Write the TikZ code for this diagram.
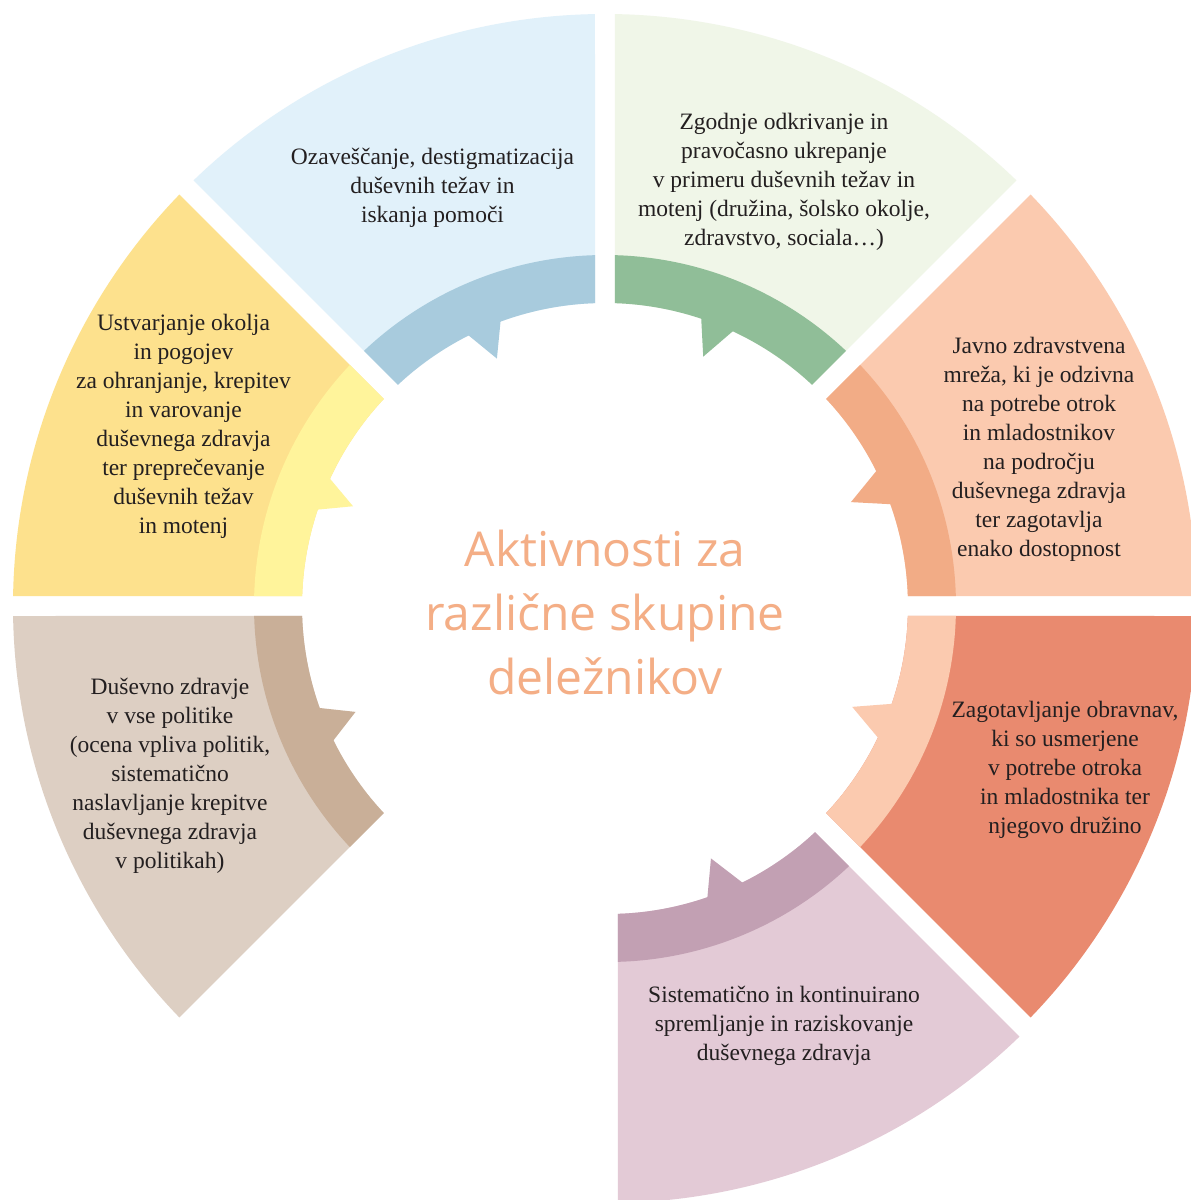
\documentclass[tikz,border=0pt]{standalone}
\usepackage{fontspec}
\setmainfont{Liberation Serif}
\newfontfamily\centerfont{Open Sans}
\definecolor{blueL}{HTML}{E1F1FA}
\definecolor{blueB}{HTML}{A8CBDD}
\definecolor{greenL}{HTML}{F0F6E8}
\definecolor{greenB}{HTML}{90BE98}
\definecolor{peachL}{HTML}{FBCAAF}
\definecolor{peachB}{HTML}{F2AC86}
\definecolor{redL}{HTML}{E98A6F}
\definecolor{redB}{HTML}{FBCAAF}
\definecolor{pinkL}{HTML}{E3CAD6}
\definecolor{pinkB}{HTML}{C2A0B3}
\definecolor{beigeL}{HTML}{DDCFC3}
\definecolor{beigeB}{HTML}{C9AF98}
\definecolor{yellowL}{HTML}{FDE18D}
\definecolor{yellowB}{HTML}{FFF49B}
\definecolor{ctext}{HTML}{F4AE86}
\definecolor{txt}{HTML}{231F20}
% sector: start angle, end angle, light colour, band colour
\newcommand{\ringsector}[4]{%
  \fill[#3] (#1+0.968:592) arc[start angle=#1+0.968, end angle=#2-0.968, radius=592]
    -- (#2-1.891:303) arc[start angle=#2-1.891, end angle=#1+1.891, radius=303] -- cycle;
  \fill[#4] (#1+1.633:351) arc[start angle=#1+1.633, end angle=#2-1.633, radius=351]
    -- (#2-1.891:303) arc[start angle=#2-1.891, end angle=#1+1.891, radius=303] -- cycle;
}
% tooth: colour, step angle, tip angle, tip radius, end angle
\newcommand{\ringtooth}[5]{%
  \fill[#1] (#2:306) -- (#3:#4) -- (#5:306) -- cycle;
}
\tikzset{
  segtext/.style={align=center, text=txt, inner sep=0pt, font=\fontsize{23.5}{29}\selectfont},
  centertext/.style={align=center, text=ctext, inner sep=0pt, font=\centerfont\fontsize{48}{64}\selectfont}
}
\begin{document}
\begin{tikzpicture}[x=1pt,y=1pt]
\clip (-605,-594) rectangle (586,606);
\fill[white] (-605,-594) rectangle (586,606);
\ringsector{0}{45}{peachL}{peachB}
\ringtooth{peachB}{19.4}{22.9}{267}{26.7}
\ringsector{45}{90}{greenL}{greenB}
\ringtooth{greenB}{71.7}{68.5}{268}{64.8}
\ringsector{90}{135}{blueL}{blueB}
\ringtooth{blueB}{109.9}{113.6}{270}{117}
\ringsector{135}{180}{yellowL}{yellowB}
\ringtooth{yellowB}{161.7}{158.4}{271}{154.9}
\ringsector{180}{225}{beigeL}{beigeB}
\ringtooth{beigeB}{199.4}{203}{271}{206.6}
\begin{scope}[shift={(3,-5)}]
\ringsector{270}{315}{pinkL}{pinkB}
\ringtooth{pinkB}{-71.1}{-67.4}{268}{-63.4}
\end{scope}
\ringsector{315}{360}{redL}{redB}
\ringtooth{redB}{-18.6}{-22.2}{267}{-26}

\node[segtext] (blue) at (-172.5,418) {Ozaveščanje, destigmatizacija\\duševnih težav in\\iskanja pomoči};
\node[segtext] (green) at (179,424) {Zgodnje odkrivanje in\\pravočasno ukrepanje\\v primeru duševnih težav in\\motenj (družina, šolsko okolje,\\zdravstvo, sociala…)};
\node[segtext] (peach) at (434,157) {Javno zdravstvena\\mreža, ki je odzivna\\na potrebe otrok\\in mladostnikov\\na področju\\duševnega zdravja\\ter zagotavlja\\enako dostopnost};
\node[segtext] (red) at (460,-164) {Zagotavljanje obravnav,\\ki so usmerjene\\v potrebe otroka\\in mladostnika ter\\njegovo družino};
\node[segtext] (pink) at (179,-420) {Sistematično in kontinuirano\\spremljanje in raziskovanje\\duševnega zdravja};
\node[segtext] (beige) at (-435,-170) {Duševno zdravje\\v vse politike\\(ocena vpliva politik,\\sistematično\\naslavljanje krepitve\\duševnega zdravja\\v politikah)};
\node[segtext] (yellow) at (-421.5,180) {Ustvarjanje okolja\\in pogojev\\za ohranjanje, krepitev\\in varovanje\\duševnega zdravja\\ter preprečevanje\\duševnih težav\\in motenj};
\node[centertext] (center) at (0,-6) {Aktivnosti za\\različne skupine\\deležnikov};
\end{tikzpicture}
\end{document}
